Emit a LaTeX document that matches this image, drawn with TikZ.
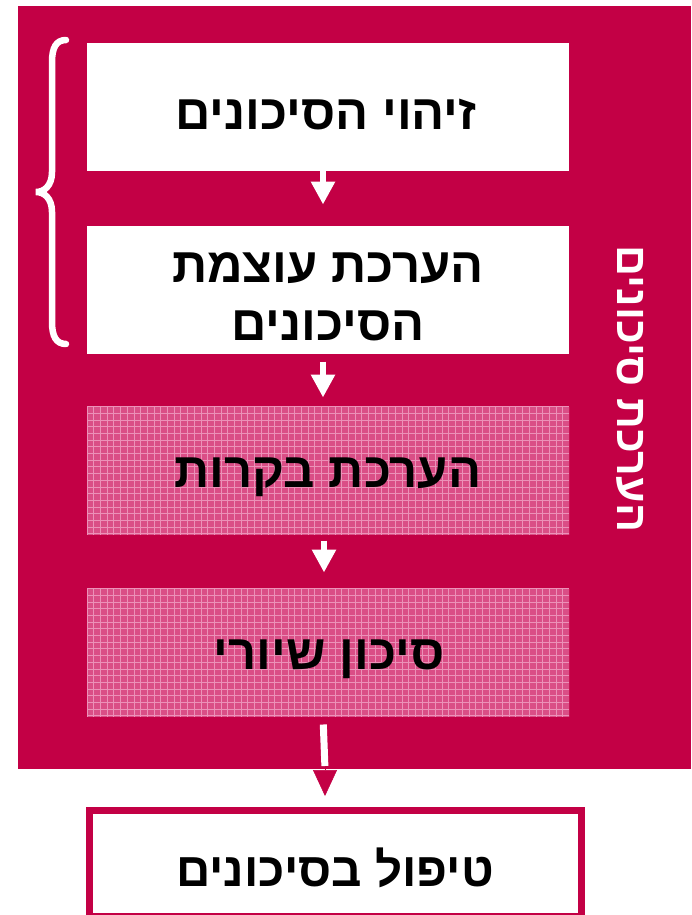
\documentclass[tikz,border=0pt]{standalone}
\usepackage{fontspec}
\usetikzlibrary{arrows.meta,calc}
\TeXXeTstate=1
\newfontfamily\hebfont[Script=Hebrew]{Liberation Sans}
\definecolor{crim}{RGB}{195,0,69}
\definecolor{hatchbg}{RGB}{218,78,134}
\definecolor{hatchln}{RGB}{236,145,184}
\begin{document}
\begin{tikzpicture}[x=1pt,y=-1pt,
  box/.style={draw=none, fill=white, minimum width=482pt, minimum height=128pt, inner sep=0pt, outer sep=0pt},
  hbox/.style={box, fill=hatchbg},
  lbl/.style={font=\hebfont\bfseries\fontsize{49}{58}\selectfont, text=black, align=center, inner sep=0pt},
  flow/.style={white, line width=6pt, -{Triangle[width=23pt,length=23pt]}},
]
\useasboundingbox (0,0) rectangle (691,915);
\node[fill=crim, minimum width=673pt, minimum height=763pt, inner sep=0pt, outer sep=0pt, anchor=north west] (frame) at (18,6) {};
\node[box] (b1) at (328,107) {};
\node[box] (b2) at (328,289.5) {};
\node[hbox] (b3) at (328,470.5) {};
\node[hbox] (b4) at (328,652.5) {};
\foreach \b in {b3,b4}{
  \begin{scope}
    \clip (\b.north west) rectangle (\b.south east);
    \foreach \i in {0,...,72} \draw[hatchln, line width=0.8pt] ($(\b.north west)+(\i*6.7,0)$) -- ++(0,128);
    \foreach \j in {0,...,19} \draw[hatchln, line width=0.8pt] ($(\b.north west)+(0,\j*6.7)$) -- ++(482,0);
  \end{scope}
}
\node[lbl] (t1) at (326,114) {\beginR זיהוי הסיכונים\endR};
\node[lbl] (t2) at (328,296.5) {\beginR הערכת עוצמת\endR\\\beginR הסיכונים\endR};
\node[lbl] (t3) at (328,477.5) {\beginR הערכת בקרות\endR};
\node[lbl] (t4) at (329,659.5) {\beginR סיכון שיורי\endR};
\node[lbl, font=\hebfont\bfseries\fontsize{43}{50}\selectfont, text=white, rotate=-90] (side) at (630,389) {\beginR הערכת סיכונים\endR};
\draw[white, line width=6.5pt, line cap=round] (66,40) .. controls (56,40) and (52,48) .. (52,62) -- (52,172) .. controls (52,186) and (44,192) .. (36,192) .. controls (44,192) and (52,198) .. (52,212) -- (52,322) .. controls (52,336) and (56,344) .. (66,344);
\draw[flow, shorten >=21pt] ($(b1.south)+(-5,0)$) -- ($(b2.north)+(-5,0)$);
\draw[flow, shorten <=8pt, shorten >=9pt] ($(b2.south)+(-5,0)$) -- ($(b3.north)+(-5,0)$);
\draw[flow, shorten <=6pt, shorten >=16pt] ($(b3.south)+(-4,0)$) -- ($(b4.north)+(-4,0)$);
\node[draw=crim, line width=7pt, fill=white, minimum width=492pt, minimum height=106pt, inner sep=0pt] (b5) at (335.5,863.5) {};
\node[lbl, font=\hebfont\bfseries\fontsize{47.5}{58}\selectfont] (t5) at (335,868) {\beginR טיפול בסיכונים\endR};
\coordinate (exitpt) at (325,769);
\draw[white, line width=7pt, shorten <=8pt, shorten >=3pt] ($(b4.south)+(-5,0)$) -- (exitpt);
\draw[crim, line width=0.5pt, -{Triangle[width=24pt,length=26pt]}, shorten >=11pt] (exitpt) -- (exitpt |- b5.north);
\end{tikzpicture}
\end{document}
